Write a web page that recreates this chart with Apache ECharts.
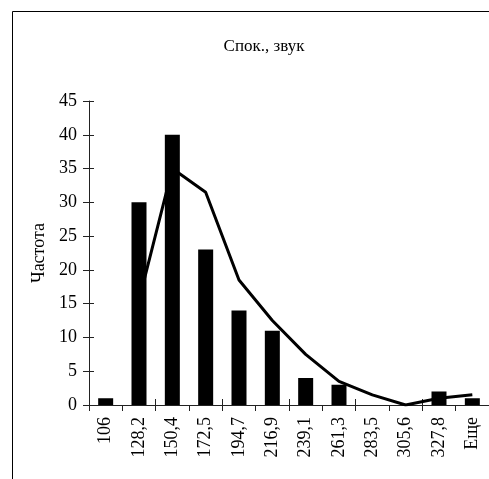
<!DOCTYPE html>
<html>
<head>
<meta charset="utf-8">
<script src="https://cdn.jsdelivr.net/npm/echarts@6/dist/echarts.min.js"></script>
<style>html,body{margin:0;padding:0;background:#fff;}#c{width:489px;height:479px;}</style>
</head>
<body>
<div id="c"></div>
<script>
var categories = ['106','128,2','150,4','172,5','194,7','216,9','239,1','261,3','283,5','305,6','327,8','Еще'];
var frequency = [1, 30, 40, 23, 14, 11, 4, 3, 0, 0, 2, 1];
var movingAvg = [null, 15.5, 35, 31.5, 18.5, 12.5, 7.5, 3.5, 1.5, 0, 1, 1.5];
var yTicks = {min: 0, max: 45, interval: 5};

var FONT = 'Liberation Serif';
var chart = echarts.init(document.getElementById('c'));
chart.setOption({
  animation: false,
  backgroundColor: '#fff',
  title: {
    text: 'Спок., звук', left: 259, top: 33, textAlign: 'center',
    textStyle: {fontFamily: FONT, fontSize: 17, fontWeight: 'normal', color: '#000'}
  },
  graphic: [{
    type: 'rect', shape: {x: 12.5, y: 11.5, width: 600, height: 600},
    style: {fill: 'none', stroke: '#000', lineWidth: 1}, silent: true
  }],
  grid: {left: 89, right: 0, top: 101, bottom: 74},
  xAxis: [{
    type: 'category', data: categories,
    axisLine: {lineStyle: {color: '#222', width: 1}},
    axisTick: {show: true, length: 6, lineStyle: {color: '#222'}},
    axisLabel: {rotate: 90, margin: 12, fontFamily: FONT, fontSize: 18, color: '#000', interval: 0}
  }, {
    type: 'category', data: categories, position: 'bottom', gridIndex: 0,
    axisLine: {show: false},
    axisTick: {show: true, inside: true, length: 6, lineStyle: {color: '#222'}},
    axisLabel: {show: false}
  }],
  yAxis: [{
    type: 'value', min: yTicks.min, max: yTicks.max, interval: yTicks.interval,
    name: 'Частота', nameLocation: 'middle', nameGap: 38, nameRotate: 90,
    nameTextStyle: {fontFamily: FONT, fontSize: 18, color: '#000'},
    axisLine: {show: true, lineStyle: {color: '#222', width: 1}},
    axisTick: {show: true, length: 6, lineStyle: {color: '#222'}},
    axisLabel: {margin: 12, fontFamily: FONT, fontSize: 18, color: '#000'},
    splitLine: {show: false}
  }, {
    type: 'value', min: yTicks.min, max: yTicks.max, interval: yTicks.interval, position: 'left',
    axisLine: {show: false},
    axisTick: {show: true, inside: true, length: 5, lineStyle: {color: '#222'}},
    axisLabel: {show: false}, splitLine: {show: false}
  }],
  series: [{
    type: 'line', data: movingAvg, xAxisIndex: 0, yAxisIndex: 0,
    symbol: 'none', z: 1,
    lineStyle: {color: '#000', width: 3}
  }, {
    type: 'bar', data: frequency, xAxisIndex: 0, yAxisIndex: 0,
    barWidth: 15, z: 3,
    itemStyle: {color: '#000'}
  }]
});
</script>
</body>
</html>
